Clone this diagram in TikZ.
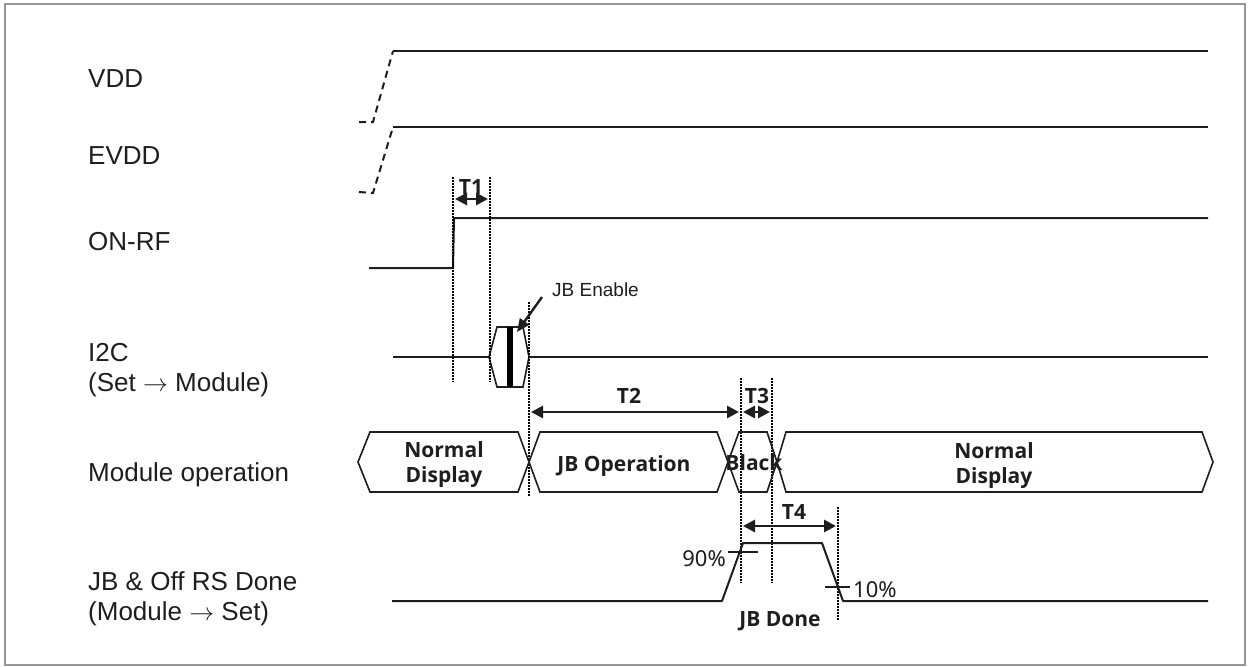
\documentclass[tikz,border=0pt]{standalone}
\usepackage{fontspec}
\setmainfont{Liberation Sans}
\newfontfamily\kfont{Noto Sans}
\newfontfamily\kbold{Open Sans}
\usetikzlibrary{arrows.meta}
\definecolor{ink}{HTML}{1E1E1E}
\definecolor{frame}{HTML}{969696}
\begin{document}
\begin{tikzpicture}[x=1pt,y=-1pt,
  sig/.style={line width=2pt, draw=ink, line join=round},
  bus/.style={line width=1.6pt, draw=ink, line join=miter},
  ramp/.style={line width=2pt, draw=ink, dash pattern=on 7pt off 5pt},
  dotl/.style={line width=1.5pt, draw=black, dash pattern=on 1.5pt off 1.5pt},
  dim/.style={line width=2.8pt, draw=ink, {Triangle[length=12pt,width=12pt]}-{Triangle[length=12pt,width=12pt]}},
  lab/.style={anchor=base west, inner sep=0, font=\fontsize{26}{30}\selectfont, text=ink},
  blab/.style={anchor=base, inner sep=0, font=\kbold\bfseries\fontsize{21}{25}\selectfont, text=ink},
  pct/.style={inner sep=0, font=\kfont\fontsize{22}{26}\selectfont, text=ink},
]
% canvas and frame
\fill[white] (0,0) rectangle (1251,667);
\useasboundingbox (0,0) rectangle (1251,667);
\draw[frame, line width=2pt] (5,4) rectangle (1245,665);

% left labels
\node[lab] (lvdd) at (88,87) {VDD};
\node[lab] (levdd) at (88,164) {EVDD};
\node[lab] (lonrf) at (88,250) {ON-RF};
\node[lab] (li2c) at (88,361) {I2C};
\node[lab] (li2cb) at (88,391) {(Set $\rightarrow$ Module)};
\node[lab] (lmod) at (88,481) {Module operation};
\node[lab] (ljb) at (88,590) {JB \& Off RS Done};
\node[lab] (ljbb) at (88,620) {(Module $\rightarrow$ Set)};

% VDD
\draw[ramp] (359,122) -- (373,122) -- (393,51);
\draw[sig] (393,51) -- (1208,51);
% EVDD
\draw[ramp] (359,192) -- (373,193) -- (393,127);
\draw[sig] (393,127) -- (1208,127);
% ON-RF
\draw[sig] (369,268) -- (453,268) -- (454,218) -- (1208,218);

% I2C
\draw[sig] (393,357) -- (489,357);
\draw[sig] (529,357) -- (1208,357);
\draw[bus] (489,357) -- (497,327) -- (523,327) -- (529,357) -- (523,387) -- (497,387) -- cycle;
\fill[black] (507,327) rectangle (513,387);

% JB Enable
\node[anchor=base west, inner sep=0, font=\fontsize{19}{23}\selectfont, text=ink] (jben) at (552,296) {JB Enable};
\coordinate (jbt) at (542,297);
\coordinate (jbh) at (517,332);
\draw[line width=2.4pt, draw=ink, -{Triangle[length=13pt,width=11pt]}] (jbt) -- (jbh);

% dotted guides
\draw[dotl] (453,177) -- (453,382);
\draw[dotl] (490,177) -- (490,382);
\draw[dotl] (529,302) -- (529,497);
\draw[dotl] (741,378) -- (741,583);
\draw[dotl] (772,378) -- (772,583);
\draw[dotl] (838,507) -- (838,620);

% timing arrows
\coordinate (t1a) at (455,199); \coordinate (t1b) at (488,199);
\draw[dim] (t1a) -- (t1b);
\node[blab] (t1) at (471,194) {T1};
\coordinate (t2a) at (531,412); \coordinate (t2b) at (739,412);
\draw[dim] (t2a) -- (t2b);
\node[blab] (t2) at (629,403) {T2};
\coordinate (t3a) at (743,412); \coordinate (t3b) at (770,412);
\draw[dim] (t3a) -- (t3b);
\node[blab] (t3) at (757,403) {T3};
\coordinate (t4a) at (743,526); \coordinate (t4b) at (836,526);
\draw[dim] (t4a) -- (t4b);
\node[blab] (t4) at (794,519) {T4};

% module operation bus
\draw[bus] (358,462) -- (370,432) -- (518,432) -- (529,462) -- (518,492) -- (370,492) -- cycle;
\draw[bus] (529,462) -- (540,432) -- (717,432) -- (728,462) -- (717,492) -- (540,492) -- cycle;
\draw[bus] (728,462) -- (739,432) -- (767,432) -- (777,462) -- (767,492) -- (739,492) -- cycle;
\draw[bus] (777,462) -- (786,432) -- (1202,432) -- (1213,462) -- (1202,492) -- (786,492) -- cycle;
\node[blab] (nd1a) at (444,457) {Normal};
\node[blab] (nd1b) at (444,482) {Display};
\node[blab] (jbop) at (624,471) {JB Operation};
\node[blab] (blk) at (754,470) {Black};
\node[blab] (nd2a) at (994,458) {Normal};
\node[blab] (nd2b) at (994,483) {Display};

% JB done signal
\draw[sig] (392,601) -- (722,601) -- (743,543) -- (822,543) -- (843,601) -- (1208,601);
\draw[line width=1.2pt, draw=ink] (728,552) -- (758,552);
\draw[line width=1.2pt, draw=ink] (825,587) -- (850,587);
\node[pct, anchor=base east] (p90) at (726,566) {90\%};
\node[pct, anchor=base west] (p10) at (853,597) {10\%};
\node[blab] (jbd) at (780,626) {JB Done};
\end{tikzpicture}
\end{document}
